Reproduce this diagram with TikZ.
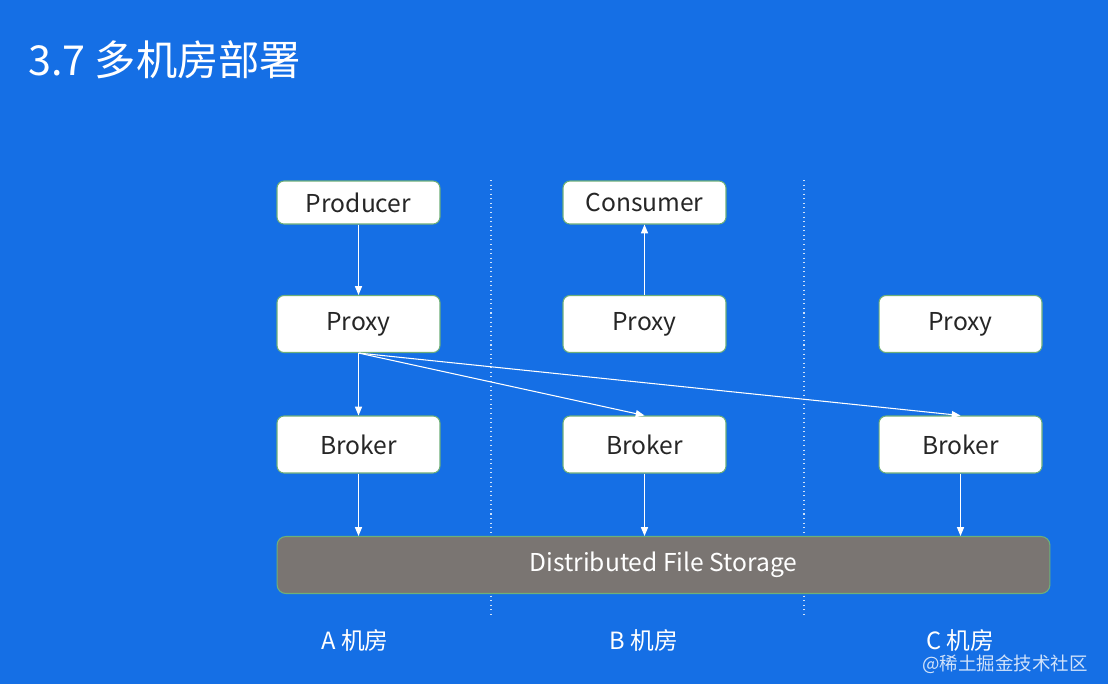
\documentclass[tikz,border=0pt]{standalone}
\usepackage{fontspec}
\setmainfont{Noto Sans CJK SC}
\usetikzlibrary{arrows.meta}
\definecolor{slideblue}{RGB}{21,111,229}
\definecolor{boxline}{RGB}{110,175,120}
\definecolor{storegray}{RGB}{122,117,114}
\begin{document}
\begin{tikzpicture}[x=0.02cm,y=-0.02cm,
    box/.style={draw=boxline,line width=0.6pt,fill=white,rounded corners=4pt,
      minimum width=3.26cm,minimum height=1.14cm,font=\fontsize{14}{16}\selectfont,text=black!85},
    smallbox/.style={box,minimum height=0.86cm},
    store/.style={draw=boxline,line width=0.6pt,fill=storegray,rounded corners=5pt,
      minimum width=15.46cm,minimum height=1.14cm,font=\fontsize{14}{16}\selectfont,text=white},
    flow/.style={white,line width=0.6pt,-{Triangle[length=5pt,width=4pt]}},
    room/.style={text=white,font=\fontsize{13.5}{15}\selectfont}]
  % Hintergrund
  \fill[slideblue] (0,0) rectangle (1108,684);
  \useasboundingbox (0,0) rectangle (1108,684);
  \node[anchor=west,text=white,font=\fontsize{23.5}{27}\selectfont] (title) at (22,60) {3.7 多机房部署};

  % Trennlinien
  \draw[white,opacity=0.8,dotted,line width=0.6pt] (491,180) -- (491,617);
  \draw[white,opacity=0.8,dotted,line width=0.6pt] (804,180) -- (804,617);

  % Knoten
  \node[smallbox] (producer) at (358.5,202.5) {Producer};
  \node[smallbox] (consumer) at (644.5,202.5) {Consumer};
  \node[box] (proxyA) at (358.5,324) {Proxy};
  \node[box] (proxyB) at (644.5,324) {Proxy};
  \node[box] (proxyC) at (960.5,324) {Proxy};
  \node[box] (brokerA) at (358.5,444.5) {Broker};
  \node[box] (brokerB) at (644.5,444.5) {Broker};
  \node[box] (brokerC) at (960.5,444.5) {Broker};
  \node[store] (storage) at (663.5,565) {Distributed File Storage};

  % Verbindungen
  \draw[flow] (producer) -- (proxyA);
  \draw[flow] (proxyB) -- (consumer);
  \draw[flow] (proxyA.south) -- (brokerA.north);
  \draw[flow] (proxyA.south) -- (brokerB.north);
  \draw[flow] (proxyA.south) -- (brokerC.north);
  \draw[flow] (brokerA.south) -- (brokerA.south |- storage.north);
  \draw[flow] (brokerB.south) -- (brokerB.south |- storage.north);
  \draw[flow] (brokerC.south) -- (brokerC.south |- storage.north);

  % Beschriftungen
  \node[room] (roomA) at (355,640) {A\ 机房};
  \node[room] (roomB) at (644,640) {B\ 机房};
  \node[room] (roomC) at (960,640) {C\ 机房};
  \node[text=white!80!slideblue,font=\fontsize{10.5}{12}\selectfont] (mark) at (1005,664) {@稀土掘金技术社区};
\end{tikzpicture}
\end{document}
